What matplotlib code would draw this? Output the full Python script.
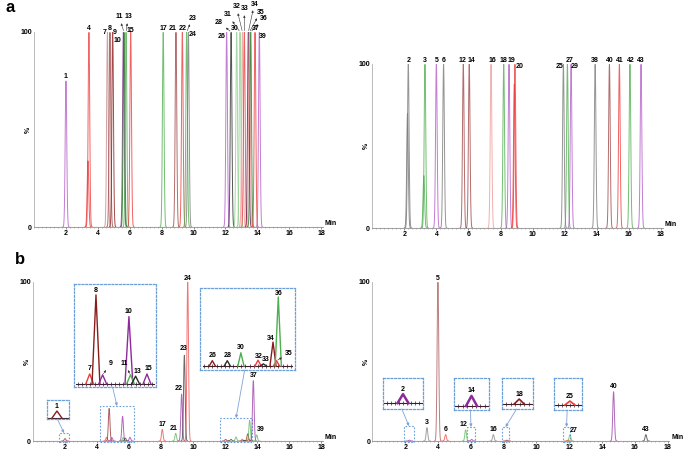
import numpy as np
import matplotlib
matplotlib.use('Agg')
import matplotlib.pyplot as plt
from matplotlib.patches import Rectangle, ConnectionPatch

plt.rcParams['font.family'] = ['Liberation Sans', 'DejaVu Sans']
plt.rcParams['font.weight'] = 'bold'
plt.rcParams['font.size'] = 5

W, H = 685, 450

# barvy
PUR = '#b45cc8'
DPUR = '#8e2a9c'
RED = '#ee3b3b'
PINK = '#f29a9a'
ROSY = '#c48a8a'
BRN = '#a04848'
DRED = '#8b1c1c'
GRN = '#4fae4f'
LGRN = '#8fcf8f'
DGRN = '#237a23'
GRAY = '#7a7a7a'
BLK = '#2b2b2b'
PLUM = '#5a1a50'
BLUE = '#6a9fd8'
COMB = '#3a1f2a'

# ---- a, vlevo
a1_ids = ['1', '4', '7', '8', '9', '10', '11', '13', '15', '17', '21', '22', '23', '24',
          '26', '28', '30', '31', '32', '33', '34', '35', '36', '37', '39']
a1_rt = [2.00, 3.44, 4.60, 4.76, 4.93, 5.60, 5.64, 5.77, 6.06, 8.10, 8.90, 9.30, 9.57, 9.68,
         12.08, 12.36, 12.71, 12.92, 13.07, 13.19, 13.44, 13.51, 13.59, 13.86, 14.13]
a1_h = [75] + [100] * 24
a1_col = [PUR, RED, ROSY, BRN, DRED, DPUR, DGRN, GRN, RED, GRN, BRN, RED, GRN, GRAY,
          PUR, BLK, LGRN, LGRN, PINK, RED, PLUM, PINK, DGRN, RED, PUR]
a1_sh_rt = [3.38]
a1_sh_h = [34]
a1_sh_col = [RED]

# ---- a, vpravo
a2_ids = ['2', '3', '5', '6', '12', '14', '16', '18', '19', '20', '25', '27', '29',
          '38', '40', '41', '42', '43']
a2_rt = [2.25, 3.29, 4.00, 4.45, 5.68, 6.05, 7.41, 8.20, 8.53, 8.90, 11.92, 12.17, 12.40,
         13.90, 14.79, 15.41, 16.07, 16.76]
a2_h = [100] * 18
a2_col = [GRAY, GRN, PUR, GRAY, BRN, BRN, PINK, GRN, PUR, RED, GRAY, GRN, PUR,
          GRAY, BRN, RED, GRN, PUR]
a2_sh_rt = [2.20, 3.22, 8.86]
a2_sh_h = [70, 32, 88]
a2_sh_col = [GRAY, GRN, RED]

# ---- b, vlevo
b1_ids = ['1', '7', '8', '9', '10', '11', '13', '15', '17', '21', '22', '23', '24',
          '26', '28', '30', '32', '33', '34', '35', '36', '37', '39']
b1_rt = [2.00, 4.60, 4.76, 4.93, 5.60, 5.64, 5.77, 6.06, 8.08, 8.92, 9.29, 9.46, 9.67,
         12.04, 12.38, 12.69, 13.08, 13.20, 13.42, 13.50, 13.54, 13.77, 13.98]
b1_h = [1.5, 2.3, 20.5, 2.1, 15.5, 2.1, 1.8, 2.3, 7.3, 4.8, 29.5, 54, 100,
        1.0, 1.0, 2.5, 1.1, 0.4, 4.5, 1.0, 13.0, 38, 3.8]
b1_col = [DRED, RED, DRED, DPUR, DPUR, GRN, BLK, DPUR, RED, GRN, DPUR, BLK, RED,
          DRED, BLK, GRN, RED, BLK, DRED, RED, GRN, DPUR, GRN]

# ---- b, vpravo
b2_ids = ['2', '3', '5', '6', '12', '14', '16', '18', '25', '27', '40', '43']
b2_rt = [2.25, 3.32, 3.99, 4.46, 5.68, 6.05, 7.37, 8.20, 11.92, 12.04, 14.70, 16.67]
b2_h = [0.5, 8.4, 100, 4.0, 7.0, 1.0, 4.0, 0.5, 0.5, 4.0, 31, 4.0]
b2_col = [DPUR, GRAY, BRN, RED, GRN, DPUR, GRAY, DRED, RED, GRN, DPUR, BLK]

# posuny popisků (pixely)
a1_off = [(0, 4), (0, 3), (-3, -1), (0, 3), (2, -1), (-6, -8), (-5, 15), (2, 15), (0, 2),
          (0, 3), (-3, 3), (0, 3), (6, 14), (4, -3), (-5, -4), (-12, 10), (-2, 3), (-12, 17),
          (-6, 25), (0, 23), (6, 28), (11, 20), (13, 14), (1, 3), (3, -4)]
a1_arrow = ['11', '13', '23', '28', '31', '32', '33', '34', '35', '36']
a2_off = [(0, 3), (0, 3), (0, 3), (0, 3), (-1, 3), (2, 3), (1, 3), (0, 3), (2, 3), (5, -3),
          (-4, -3), (2, 4), (4, -3), (0, 3), (0, 3), (0, 3), (1, 3), (0, 3)]
b1_off = {'17': (0, 5), '21': (-2, 5), '22': (-3, 6), '23': (-1, 7), '24': (0, 4),
          '37': (0, 5), '39': (4, 5)}
b2_off = {'3': (0, 5), '5': (0, 4), '6': (0, 5), '12': (-2, 5), '16': (0, 5), '27': (4, 4),
          '40': (0, 5), '43': (0, 5)}
ins_off = {'7': (0, 5), '8': (0, 4), '9': (8, 11), '10': (0, 5), '11': (-6, 11), '13': (2, 5),
           '15': (1, 5), '26': (0, 5), '28': (0, 5), '30': (0, 5), '32': (1, 4), '33': (2, 4),
           '34': (-2, 4), '35': (12, 7), '36': (0, 4)}
ins_arrow = ['9', '11', '35']

# výřezy: rámeček v pixelech, rozsah osy, cíl v hlavním grafu
b1_ins = [
    dict(box=(47, 400, 69, 419), tlim=(1.76, 2.29), ylim=(-0.2, 3.85), ids=['1'], hw=0.12, lw=1.0, comb=False, target=(1.63, 2.25, 5)),
    dict(box=(74, 284, 156, 387), tlim=(4.2, 6.29), ylim=(-0.7, 23), ids=['7', '8', '9', '10', '11', '13', '15'], hw=0.1, lw=1.0, comb=True, target=(4.19, 6.31, 22)),
    dict(box=(200, 288, 295, 370), tlim=(11.76, 13.92), ylim=(-0.75, 14.7), ids=['26', '28', '30', '32', '33', '34', '35', '36'], hw=0.07, lw=1.0, comb=True, target=(11.69, 13.69, 14.4)),
]
b2_ins = [
    dict(box=(383, 378, 423, 409), tlim=(1.81, 2.69), ylim=(-0.33, 1.4), ids=['2'], hw=0.12, lw=1.8, comb=True, target=(1.92, 2.53, 9.4)),
    dict(box=(454, 378, 489, 410), tlim=(5.67, 6.43), ylim=(-0.4, 2.78), ids=['14'], hw=0.12, lw=1.8, comb=True, target=(5.76, 6.25, 8.8)),
    dict(box=(502, 378, 533, 409), tlim=(7.79, 8.53), ylim=(-0.5, 2.62), ids=['18'], hw=0.12, lw=1.2, comb=True, target=(7.9, 8.32, 8.8)),
    dict(box=(554, 378, 582, 410), tlim=(11.54, 12.21), ylim=(-0.62, 3.38), ids=['25'], hw=0.12, lw=1.2, comb=True, target=(11.62, 12.04, 8.8)),
]

fig = plt.figure(figsize=(W / 100, H / 100), dpi=100)


def px_axes(l, t, r, b):
    return fig.add_axes([l / W, 1 - b / H, (r - l) / W, (b - t) / H])


def main_axes(x0, ppm, y0, y100, base_col):
    ax = px_axes(x0, y100, x0 + 18.1 * ppm, y0)
    ax.set_xlim(0, 18.1)
    ax.set_ylim(0, 100)
    for s in ['top', 'right']:
        ax.spines[s].set_visible(False)
    ax.spines['left'].set_color('#b0b0b0')
    ax.spines['left'].set_linewidth(0.6)
    ax.spines['bottom'].set_color('#909090')
    ax.spines['bottom'].set_linewidth(0.6)
    ax.set_xticks(range(2, 19, 2))
    ax.set_xticks(np.arange(0, 18.1, 0.25), minor=True)
    ax.tick_params(axis='x', which='major', length=1.5, width=0.5, pad=0.5, color='#606060')
    ax.tick_params(axis='x', which='minor', length=1, width=0.4, color='#808080')
    ax.set_yticks([0, 100])
    ax.tick_params(axis='y', length=0, pad=1.5)
    ax.annotate('%', xy=(0, 0.5), xycoords='axes fraction', xytext=(-6, 0),
                textcoords='offset pixels', rotation=90, ha='center', va='center')
    ax.annotate('Min', xy=(1, 0), xycoords='axes fraction', xytext=(2, 0),
                textcoords='offset pixels', ha='left', va='bottom')
    ax.axhline(0, color=base_col, lw=0.8)
    return ax


def peaks(ax, rt, h, col, sigma=0.05, lw=0.7, alpha=0.8):
    for t, hh, c in zip(rt, h, col):
        x = np.linspace(t - 4 * sigma, t + 4 * sigma, 60)
        ax.plot(x, hh * np.exp(-0.5 * ((x - t) / sigma) ** 2), color=c, lw=lw, alpha=alpha)


def label(ax, txt, t, h, off, arrow=False):
    kw = {}
    if arrow:
        kw['arrowprops'] = dict(arrowstyle='<|-', lw=0.4, color='#333333',
                                shrinkA=0, shrinkB=1, mutation_scale=3)
    ax.annotate(txt, xy=(t, h), xytext=off, textcoords='offset pixels',
                ha='center', va='center', annotation_clip=False, **kw)


def inset(ax, spec, ids, rt, h, col):
    l, t, r, b = spec['box']
    ia = px_axes(l, t, r, b)
    ia.set_xlim(*spec['tlim'])
    ia.set_ylim(*spec['ylim'])
    ia.set_xticks([])
    ia.set_yticks([])
    for s in ia.spines.values():
        s.set_linestyle((0, (1.5, 1.5)))
        s.set_color(BLUE)
        s.set_linewidth(0.9)
    x0, x1 = spec['tlim']
    ia.plot([x0 + 0.03 * (x1 - x0), x1 - 0.03 * (x1 - x0)], [0, 0], color=COMB, lw=0.8)
    if spec['comb']:
        n = int((r - l) / 4)
        xs = np.linspace(x0, x1, n + 1)[1:-1]
        ia.plot(xs, np.zeros(len(xs)), '|', ms=2.2, mew=0.5, color=COMB)
    for pid in spec['ids']:
        i = ids.index(pid)
        hw = spec['hw']
        ia.plot([rt[i] - hw, rt[i], rt[i] + hw], [0, h[i], 0], color=col[i], lw=spec['lw'])
        label(ia, pid, rt[i], h[i], ins_off.get(pid, (0, 5)), pid in ins_arrow)
    t0, t1, top = spec['target']
    ax.add_patch(Rectangle((t0, -0.8), t1 - t0, top + 0.8, fill=False, ec=BLUE, lw=0.8,
                           ls=(0, (1.5, 1.5)), clip_on=False))
    con = ConnectionPatch(xyA=(0.47, 0), coordsA=ia.transAxes,
                          xyB=((t0 + t1) / 2, top), coordsB=ax.transData,
                          arrowstyle='-|>', mutation_scale=4, color='#7fa3d6', lw=0.6)
    fig.add_artist(con)


# a vlevo
ax1 = main_axes(34.1, 15.94, 227, 32, '#9aa56a')
peaks(ax1, a1_sh_rt, a1_sh_h, a1_sh_col)
peaks(ax1, a1_rt, a1_h, a1_col)
for i, pid in enumerate(a1_ids):
    label(ax1, pid, a1_rt[i], a1_h[i], a1_off[i], pid in a1_arrow)

# a vpravo
ax2 = main_axes(372.2, 16.04, 228, 64, '#9aa56a')
peaks(ax2, a2_sh_rt, a2_sh_h, a2_sh_col)
peaks(ax2, a2_rt, a2_h, a2_col)
for i, pid in enumerate(a2_ids):
    label(ax2, pid, a2_rt[i], a2_h[i], a2_off[i])

# b vlevo
ax3 = main_axes(33, 16.0, 441, 282, '#c0608a')
peaks(ax3, b1_rt, b1_h, b1_col, alpha=0.7)
for i, pid in enumerate(b1_ids):
    if pid in b1_off:
        label(ax3, pid, b1_rt[i], b1_h[i], b1_off[pid])
for spec in b1_ins:
    inset(ax3, spec, b1_ids, b1_rt, b1_h, b1_col)

# b vpravo
ax4 = main_axes(372.5, 16.4, 441, 282, '#c0608a')
peaks(ax4, b2_rt, b2_h, b2_col, alpha=0.7)
for i, pid in enumerate(b2_ids):
    if pid in b2_off:
        label(ax4, pid, b2_rt[i], b2_h[i], b2_off[pid])
for spec in b2_ins:
    inset(ax4, spec, b2_ids, b2_rt, b2_h, b2_col)

fig.text(10 / W, 1 - 8 / H, 'a', fontsize=12, fontweight='bold', ha='center', va='center')
fig.text(20 / W, 1 - 259 / H, 'b', fontsize=12, fontweight='bold', ha='center', va='center')

fig.savefig('out.png', dpi=100, facecolor='white')
